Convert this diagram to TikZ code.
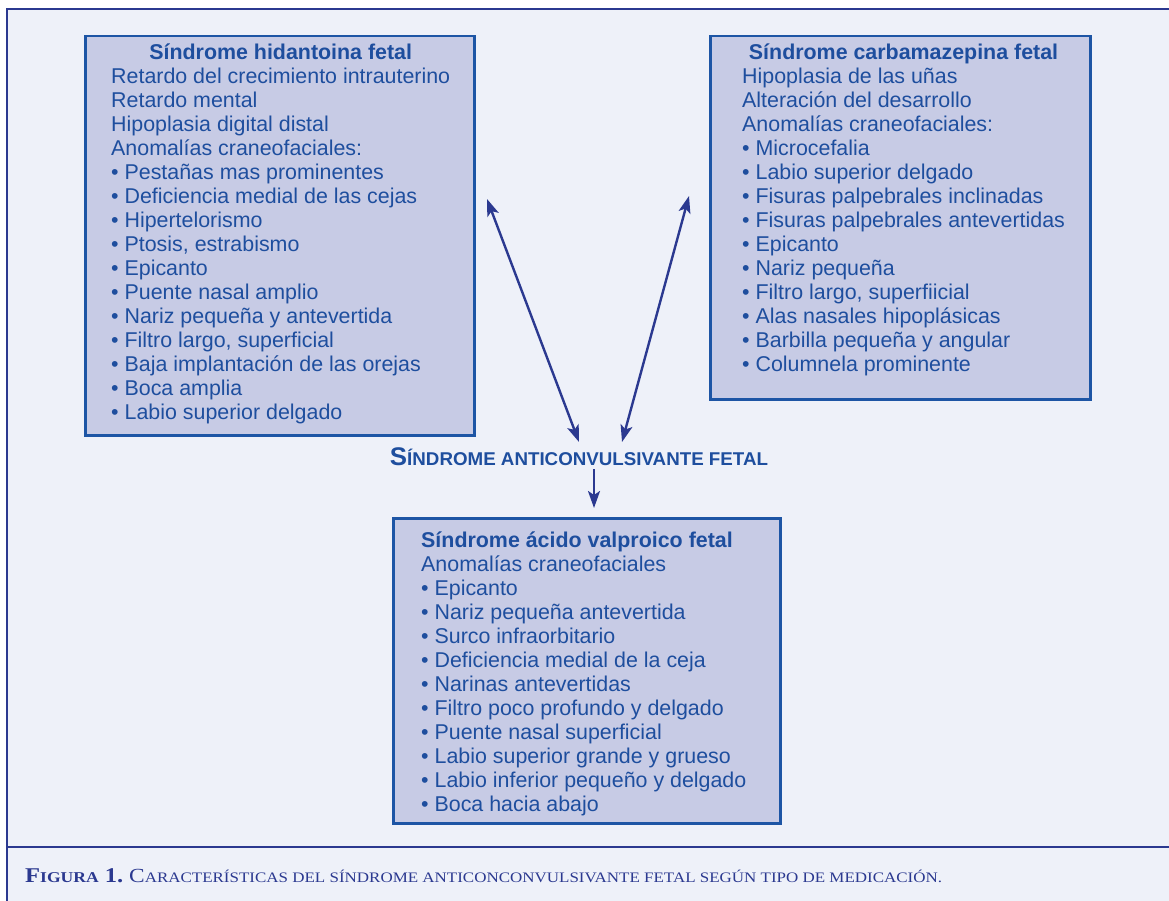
\documentclass[tikz,border=0pt]{standalone}
\usepackage{fontspec}
\usepackage{graphicx}
\setmainfont{Liberation Sans}
\newfontfamily\capfont{Liberation Serif}
\usetikzlibrary{arrows.meta}
\definecolor{bg}{HTML}{EEF1F9}
\definecolor{boxfill}{HTML}{C7CBE5}
\definecolor{boxline}{HTML}{1D55A5}
\definecolor{txt}{HTML}{1E4E9E}
\definecolor{navy}{HTML}{2B3990}
\tikzset{
  x=1pt, y=-1pt,
  panel/.style={draw=boxline, line width=2.5pt, fill=boxfill, rectangle, inner sep=0pt, anchor=north west},
  body/.style={anchor=north west, inner sep=0pt, text=txt, font=\fontsize{21.4}{24.05}\selectfont},
  arr/.style={draw=navy, line width=2.4pt, -{Stealth[length=17pt, width=12pt, inset=4pt]}},
  darr/.style={draw=navy, line width=2.4pt, {Stealth[length=17pt, width=12pt, inset=4pt]}-{Stealth[length=17pt, width=12pt, inset=4pt]}},
}
\newcommand{\bul}{\textbullet\ }
\begin{document}
\begin{tikzpicture}
\path[use as bounding box] (0,0) rectangle (1169,901);
\fill[white] (0,0) rectangle (1169,901);
\fill[bg] (7,9) rectangle (1169,901);
\draw[navy, line width=2.2pt] (7,901) -- (7,9) -- (1169,9);
\draw[navy, line width=2.2pt] (7,847) -- (1169,847);

% panels
\node[panel, minimum width=389pt, minimum height=399pt] (hid) at (84,35) {};
\node[panel, minimum width=380pt, minimum height=363pt] (car) at (709,35) {};
\node[panel, minimum width=387pt, minimum height=305pt] (val) at (392,517) {};

\node[body] (hidtxt) at (111,42.2) {\begin{tabular}{@{}l@{}}
\multicolumn{1}{@{}c@{}}{\bfseries Síndrome hidantoina fetal}\\
Retardo del crecimiento intrauterino\\
Retardo mental\\
Hipoplasia digital distal\\
Anomalías craneofaciales:\\
\bul Pestañas mas prominentes\\
\bul Deficiencia medial de las cejas\\
\bul Hipertelorismo\\
\bul Ptosis, estrabismo\\
\bul Epicanto\\
\bul Puente nasal amplio\\
\bul Nariz pequeña y antevertida\\
\bul Filtro largo, superficial\\
\bul Baja implantación de las orejas\\
\bul Boca amplia\\
\bul Labio superior delgado
\end{tabular}};

\node[body] (cartxt) at (742,42.2) {\begin{tabular}{@{}l@{}}
\multicolumn{1}{@{}c@{}}{\bfseries Síndrome carbamazepina fetal}\\
Hipoplasia de las uñas\\
Alteración del desarrollo\\
Anomalías craneofaciales:\\
\bul Microcefalia\\
\bul Labio superior delgado\\
\bul Fisuras palpebrales inclinadas\\
\bul Fisuras palpebrales antevertidas\\
\bul Epicanto\\
\bul Nariz pequeña\\
\bul Filtro largo, superfiicial\\
\bul Alas nasales hipoplásicas\\
\bul Barbilla pequeña y angular\\
\bul Columnela prominente
\end{tabular}};

\node[body] (valtxt) at (421,530.2) {\begin{tabular}{@{}l@{}}
{\bfseries Síndrome ácido valproico fetal}\\
Anomalías craneofaciales\\
\bul Epicanto\\
\bul Nariz pequeña antevertida\\
\bul Surco infraorbitario\\
\bul Deficiencia medial de la ceja\\
\bul Narinas antevertidas\\
\bul Filtro poco profundo y delgado\\
\bul Puente nasal superficial\\
\bul Labio superior grande y grueso\\
\bul Labio inferior pequeño y delgado\\
\bul Boca hacia abajo
\end{tabular}};

% central label
\node[inner sep=0pt, text=txt, anchor=base] (anti) at (579,465) {\resizebox{378pt}{\height}{\bfseries{\fontsize{25.5}{25}\selectfont S}{\fontsize{18.5}{18}\selectfont ÍNDROME ANTICONVULSIVANTE FETAL}}};

\coordinate (hidtip) at (487,199);
\coordinate (cartip) at (689,196);
\coordinate (antiL) at (579,442);
\coordinate (antiR) at (622,442);
\coordinate (antiS) at (594,469);
\coordinate (valtop) at (594,508);

\draw[darr] (hidtip) -- (antiL);
\draw[darr] (cartip) -- (antiR);
\draw[arr] (antiS) -- (valtop);

% caption
\node[inner sep=0pt, anchor=base west, text=navy] (cap) at (25,882) {\resizebox{917pt}{\height}{\capfont{\bfseries{\fontsize{21}{21}\selectfont F}{\fontsize{15}{15}\selectfont IGURA}\fontsize{21}{21}\selectfont\ 1.}\enspace{\fontsize{20}{20}\selectfont C}{\fontsize{14.5}{15}\selectfont ARACTERÍSTICAS DEL SÍNDROME ANTICONCONVULSIVANTE FETAL SEGÚN TIPO DE MEDICACIÓN.}}};
\end{tikzpicture}
\end{document}
